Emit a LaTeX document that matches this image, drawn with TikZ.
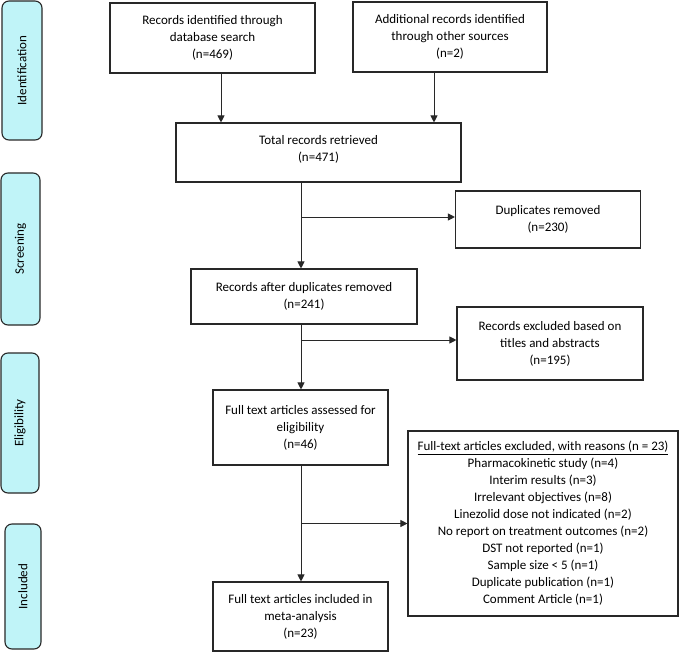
\documentclass[tikz,border=0pt]{standalone}
\usepackage{fontspec}
\setmainfont{Carlito}
\usetikzlibrary{arrows.meta,calc}
\definecolor{sidecyan}{RGB}{192,244,248}
\definecolor{linegray}{RGB}{40,40,40}
\tikzset{
  box/.style={draw=linegray,line width=1.1pt,align=center,inner sep=2pt,
    font=\fontsize{13}{17}\selectfont},
  side/.style={draw=linegray,line width=1.1pt,fill=sidecyan,rounded corners=7pt},
  sidetext/.style={rotate=90,font=\fontsize{13}{15}\selectfont},
  arr/.style={draw=linegray,line width=0.9pt,-{Triangle[length=7pt,width=7pt]}},
}
\begin{document}
\begin{tikzpicture}[x=1pt,y=-1pt]
\useasboundingbox (0,0) rectangle (685,655);
% side labels
\node[side,minimum width=40pt,minimum height=139pt] (sid) at (22,70.5) {};
\node[sidetext] (tid) at (sid.center) {Identification};
\node[side,minimum width=39pt,minimum height=152pt] (ssc) at (20.5,249) {};
\node[sidetext] (tsc) at (ssc.center) {Screening};
\node[side,minimum width=38pt,minimum height=140pt] (sel) at (20,423) {};
\node[sidetext] (tel) at (sel.center) {Eligibility};
\node[side,minimum width=36pt,minimum height=125pt] (sin) at (23,586.5) {};
\node[sidetext] (tin) at (sin.center) {Included};
% boxes
\node[box,minimum width=205pt,minimum height=70pt] (b1) at (212.5,38) {Records identified through\\database search\\(n=469)};
\node[box,minimum width=194pt,minimum height=70pt] (b2) at (450,37) {Additional records identified\\through other sources\\(n=2)};
\node[box,minimum width=285pt,minimum height=59pt] (b3) at (318.5,152.5) {};
\node[font=\fontsize{13}{17}\selectfont,align=center] (b3t) at (318.5,149.5) {Total records retrieved\\(n=471)};
\node[box,minimum width=185pt,minimum height=57pt] (dup) at (548,219.5) {Duplicates removed\\(n=230)};
\node[box,minimum width=226pt,minimum height=55pt] (b4) at (304,296.5) {Records after duplicates removed\\(n=241)};
\node[box,minimum width=186pt,minimum height=73pt] (ex1) at (550,343.5) {Records excluded based on\\titles and abstracts\\(n=195)};
\node[box,minimum width=175pt,minimum height=75pt] (b6) at (300.5,427.5) {Full text articles assessed for\\eligibility\\(n=46)};
\node[box,minimum width=270pt,minimum height=185pt] (ex2) at (543,523.5) {\underline{Full-text articles excluded, with reasons (n = 23)}\\Pharmacokinetic study (n=4)\\Interim results (n=3)\\Irrelevant objectives (n=8)\\Linezolid dose not indicated (n=2)\\No report on treatment outcomes (n=2)\\DST not reported (n=1)\\Sample size < 5 (n=1)\\Duplicate publication (n=1)\\Comment Article (n=1)};
\node[box,minimum width=175pt,minimum height=69pt] (b8) at (300.5,616.5) {Full text articles included in\\meta-analysis\\(n=23)};
% connectors
\coordinate (ax) at (301,0);
\draw[arr] ([xshift=8.5pt]b1.south) -- ([xshift=8.5pt]b1.south |- b3.north);
\draw[arr] ([xshift=-16pt]b2.south) -- ([xshift=-16pt]b2.south |- b3.north);
\draw[arr] (b3.south -| ax) -- (b4.north -| ax);
\draw[arr] ([yshift=2.5pt]dup.west -| ax) -- ([yshift=2.5pt]dup.west);
\draw[arr] (b4.south -| ax) -- (b6.north -| ax);
\draw[arr] ([yshift=3.5pt]ex1.west -| ax) -- ([yshift=3.5pt]ex1.west);
\draw[arr] (b6.south -| ax) -- (b8.north -| ax);
\draw[arr] (ex2.west -| ax) -- (ex2.west);
\end{tikzpicture}
\end{document}
